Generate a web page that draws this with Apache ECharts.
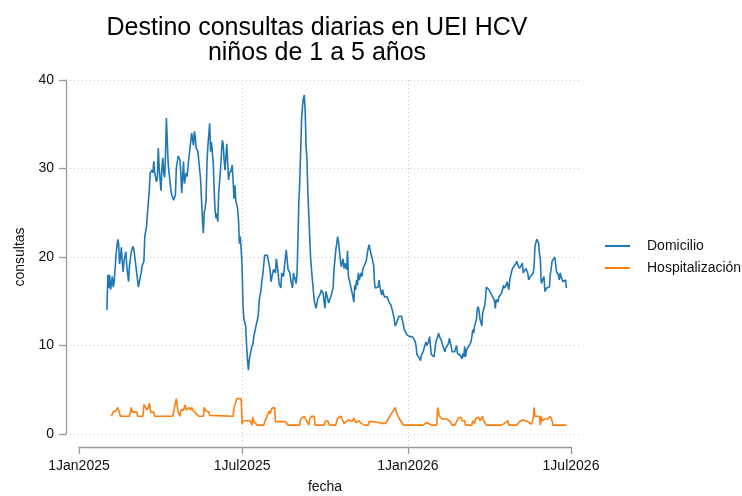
<!DOCTYPE html>
<html>
<head>
<meta charset="utf-8">
<script src="https://cdn.jsdelivr.net/npm/echarts@6/dist/echarts.min.js"></script>
<style>
  html, body { margin: 0; padding: 0; background: #fff; }
  #chart { width: 742px; height: 496px; }
</style>
</head>
<body>
<div id="chart"></div>
<script>
// fecha base: los datos van en días desde el 1 de enero de 2025
var fechaBase = '2025-01-01';
var fechasTicks = ['2025-01-01', '2025-07-01', '2026-01-01', '2026-07-01'];
var ticksY = [0, 10, 20, 30, 40];
var nombres = ['Domicilio', 'Hospitalización'];

// [día, consultas]
var domicilio = [[31,14.0],[32,18.0],[33,16.5],[34,18.0],[35,16.3],[36,17.0],[37,17.8],[38,16.6],[39,17.2],[40,18.5],[41,20.2],[42,20.3],[43,22.0],[44,21.5],[45,19.2],[46,20.0],[47,21.1],[48,19.5],[49,18.3],[50,19.6],[52,20.6],[53,19.0],[55,17.2],[56,19.0],[58,20.6],[60,21.2],[61,20.8],[63,20.6],[64,18.2],[66,16.6],[67,17.2],[69,18.2],[70,19.0],[72,19.5],[73,22.3],[75,23.5],[76,24.9],[78,27.5],[79,29.5],[81,29.8],[82,29.5],[83,30.8],[84,29.5],[86,28.5],[87,29.0],[88,32.3],[89,30.0],[91,27.5],[92,30.0],[93,31.2],[94,29.5],[95,29.0],[96,31.5],[97,35.7],[98,33.0],[99,30.5],[101,30.5],[102,27.5],[103,27.0],[105,26.4],[107,27.0],[108,30.0],[110,31.4],[112,31.0],[113,29.5],[114,27.2],[116,30.8],[117,28.3],[119,29.5],[120,29.1],[122,31.3],[123,32.1],[125,34.0],[126,34.0],[127,32.6],[128,34.2],[129,33.6],[130,32.3],[132,31.9],[133,30.8],[134,30.6],[135,28.7],[136,26.4],[137,24.2],[138,22.7],[139,25.1],[140,25.5],[141,26.4],[142,30.6],[143,32.5],[145,35.1],[146,31.9],[147,33.0],[148,33.0],[149,30.6],[150,27.6],[151,25.3],[152,24.4],[153,24.9],[154,24.0],[155,27.2],[156,27.4],[157,29.8],[159,33.2],[160,32.8],[161,31.0],[162,29.8],[164,32.8],[165,30.6],[166,28.7],[167,29.5],[169,29.8],[170,30.4],[171,28.7],[172,26.6],[173,28.1],[174,26.4],[175,25.9],[176,25.5],[177,24.2],[178,21.5],[179,22.3],[180,20.8],[181,18.9],[182,14.5],[183,13.0],[184,12.8],[185,12.2],[186,10.0],[187,8.4],[188,7.2],[189,8.4],[190,9.0],[191,8.9],[192,9.9],[193,10.2],[194,11.0],[195,11.2],[196,11.0],[197,12.5],[198,12.9],[199,13.5],[200,15.1],[202,16.3],[203,17.4],[204,18.0],[206,20.2],[207,20.0],[209,20.2],[210,20.4],[212,18.6],[213,17.2],[215,18.2],[216,18.6],[218,18.2],[219,19.8],[221,18.2],[222,17.0],[224,16.5],[225,18.2],[227,17.8],[228,18.9],[230,20.8],[231,19.7],[232,18.6],[234,18.2],[235,17.4],[237,16.5],[238,18.2],[240,17.4],[241,17.0],[242,18.2],[243,22.0],[244,26.4],[245,28.5],[246,32.0],[247,35.5],[248,37.0],[249,37.9],[250,38.3],[251,36.6],[252,32.5],[253,31.0],[254,27.2],[255,24.9],[256,22.3],[257,20.0],[258,18.6],[259,17.4],[260,16.3],[261,15.1],[262,14.6],[263,14.2],[264,14.4],[265,15.3],[266,15.5],[268,15.9],[269,16.3],[270,16.3],[271,15.9],[272,14.9],[273,14.2],[274,16.1],[276,15.3],[277,14.8],[279,14.9],[280,15.7],[282,16.5],[283,18.6],[284,19.7],[285,20.8],[286,21.5],[287,22.3],[288,21.7],[290,19.7],[291,18.9],[293,19.8],[294,18.7],[295,19.3],[296,18.9],[297,18.6],[298,20.7],[299,17.8],[300,17.4],[301,17.6],[302,17.4],[304,15.5],[305,14.9],[306,16.8],[307,16.3],[308,17.4],[309,16.8],[310,18.2],[311,17.4],[313,18.2],[314,17.8],[315,18.7],[316,18.6],[317,19.1],[318,18.9],[319,19.7],[320,20.4],[321,21.0],[322,21.4],[323,21.4],[324,20.4],[325,20.0],[326,19.5],[327,19.1],[328,17.0],[329,16.5],[330,16.5],[332,16.6],[333,17.4],[334,16.6],[335,16.1],[336,15.7],[337,16.3],[338,15.8],[339,15.5],[340,15.3],[341,15.5],[342,15.5],[343,15.3],[344,14.9],[345,15.1],[346,14.6],[347,14.4],[348,13.9],[349,13.4],[350,12.9],[351,12.2],[352,12.3],[353,12.7],[354,12.9],[355,13.3],[356,13.5],[357,13.5],[358,13.3],[359,12.8],[360,12.3],[361,11.8],[362,11.6],[363,11.6],[364,11.2],[365,11.4],[366,11.2],[367,11.0],[368,11.2],[369,11.1],[370,11.0],[371,11.2],[372,10.8],[373,10.5],[374,10.0],[375,9.0],[376,8.9],[377,8.7],[379,8.3],[380,8.9],[382,9.3],[383,9.7],[385,10.4],[386,10.0],[388,10.4],[389,11.0],[390,11.2],[391,9.0],[392,9.1],[394,8.7],[395,9.5],[396,10.4],[397,10.2],[398,11.0],[399,11.4],[400,11.0],[401,11.2],[402,10.6],[403,10.2],[404,9.9],[405,10.0],[406,9.3],[407,9.7],[408,9.5],[409,9.9],[410,10.2],[411,10.8],[412,10.4],[413,9.9],[414,9.3],[415,9.1],[416,9.1],[417,9.3],[418,9.7],[419,10.0],[420,9.1],[421,8.9],[422,9.3],[423,8.9],[424,8.7],[425,8.5],[426,9.1],[427,8.7],[428,9.9],[429,8.7],[430,9.5],[431,9.3],[432,9.7],[433,10.0],[434,10.2],[435,10.4],[436,11.0],[437,11.8],[438,11.4],[439,12.2],[440,12.0],[441,12.9],[442,14.1],[443,14.4],[444,13.9],[445,13.0],[446,12.6],[447,12.2],[448,13.7],[449,13.9],[450,14.4],[451,15.1],[452,16.6],[453,16.5],[454,16.6],[455,16.3],[456,16.1],[457,15.9],[458,15.9],[459,15.5],[460,15.7],[461,15.1],[462,14.2],[463,15.2],[465,14.9],[466,15.5],[468,15.3],[469,15.9],[471,16.8],[472,16.5],[474,16.8],[475,17.2],[477,16.3],[478,17.4],[480,18.3],[481,18.7],[483,18.9],[484,19.1],[486,19.5],[487,19.1],[489,18.7],[490,18.6],[492,19.3],[493,18.2],[495,18.3],[496,18.7],[498,18.2],[499,17.4],[501,17.8],[502,17.6],[504,18.2],[505,18.9],[506,21.2],[507,21.6],[508,22.0],[510,21.6],[511,20.4],[512,19.7],[513,17.0],[514,16.8],[515,17.2],[516,17.8],[517,16.1],[518,16.3],[519,16.5],[521,16.5],[522,16.6],[523,18.0],[524,18.7],[525,19.5],[526,19.7],[527,19.5],[528,20.0],[529,20.2],[530,18.3],[532,18.0],[533,17.4],[534,18.2],[535,17.8],[536,18.0],[537,17.2],[538,17.4],[539,17.2],[540,17.4],[541,16.5]];

var hospitalizacion = [[36,2.0],[38,2.5],[40,2.6],[41,2.6],[43,3.0],[44,2.7],[46,2.0],[56,2.0],[58,3.0],[59,2.5],[64,2.5],[65,2.0],[71,2.0],[72,3.3],[74,3.0],[75,2.7],[77,3.0],[78,3.5],[80,2.4],[81,2.3],[83,2.5],[84,2.0],[104,2.0],[105,2.5],[106,3.0],[107,3.5],[108,4.0],[109,3.2],[110,2.5],[112,2.0],[113,2.7],[116,2.7],[118,3.3],[119,2.7],[121,2.5],[122,3.0],[124,2.7],[125,3.0],[127,2.6],[128,2.5],[130,2.3],[131,2.1],[133,2.0],[138,2.0],[139,3.0],[141,2.6],[142,2.6],[144,2.5],[145,2.1],[147,2.0],[171,2.0],[172,3.0],[174,3.6],[175,4.0],[180,4.0],[181,1.1],[182,1.5],[186,1.5],[188,1.3],[190,1.5],[192,1.0],[193,1.9],[194,1.4],[196,1.2],[198,1.0],[205,1.0],[207,1.6],[209,1.6],[211,2.6],[212,2.3],[214,2.9],[215,3.0],[217,3.0],[218,1.4],[229,1.4],[230,1.2],[232,1.0],[245,1.0],[246,1.7],[248,1.9],[250,2.0],[252,1.8],[253,1.4],[255,1.0],[256,1.7],[258,2.0],[261,2.0],[262,1.0],[272,1.0],[273,1.4],[275,1.6],[276,1.5],[278,1.0],[285,1.0],[287,1.8],[288,2.0],[291,2.0],[292,1.7],[294,1.2],[296,1.4],[299,1.6],[301,1.5],[303,1.4],[305,1.8],[307,1.3],[308,1.5],[311,1.5],[313,1.2],[315,1.2],[317,1.0],[321,1.0],[322,1.4],[325,1.4],[327,1.2],[333,1.3],[336,1.2],[338,1.0],[340,1.2],[342,1.5],[344,1.7],[346,2.2],[348,2.5],[351,3.0],[352,2.5],[354,2.0],[356,2.0],[357,1.5],[360,1.0],[382,1.0],[383,1.2],[386,1.3],[388,1.2],[391,1.0],[397,1.0],[398,3.0],[400,2.0],[401,1.9],[403,1.7],[408,1.7],[410,1.5],[412,1.4],[414,1.0],[417,1.0],[419,1.4],[421,1.8],[423,2.0],[424,1.9],[425,1.5],[428,1.5],[429,1.0],[436,1.0],[437,1.5],[439,1.2],[440,1.7],[442,1.5],[443,1.9],[445,1.5],[446,1.7],[448,2.0],[449,1.5],[451,1.5],[452,1.0],[469,1.0],[472,1.2],[474,1.4],[476,1.5],[477,1.0],[486,1.0],[488,1.3],[490,1.4],[492,1.6],[494,1.4],[495,1.5],[498,1.4],[500,1.2],[502,1.1],[504,1.7],[505,3.0],[506,2.0],[511,2.0],[512,1.0],[513,2.0],[514,1.5],[516,1.4],[517,1.7],[519,1.8],[520,1.7],[522,1.9],[523,2.0],[525,1.5],[526,1.0],[541,1.0]];

(function() {
    var DIA = 86400000;
    var base = Date.parse(fechaBase);
    var meses = ['Jan', 'Feb', 'Mar', 'Apr', 'May', 'Jun', 'Jul', 'Aug', 'Sep', 'Oct', 'Nov', 'Dec'];
    var ticksX = fechasTicks.map(function(f) { return Math.round((Date.parse(f) - base) / DIA); });
    var xMin = ticksX[0], xMax = ticksX[ticksX.length - 1];
    // eje de fechas: de 79px a 571px
    var pxDia = 492 / (xMax - xMin);
    var fuente = 'Liberation Sans, Arial, sans-serif';
    var gris = '#9a9a9a';

    function etiquetaFecha(v) {
        var d = new Date(base + v * DIA);
        return d.getUTCDate() + meses[d.getUTCMonth()] + d.getUTCFullYear();
    }

    var myChart = echarts.init(document.getElementById('chart'), null, { renderer: 'canvas' });
    var option = {
        animation: false,
        backgroundColor: '#fff',
        textStyle: { fontFamily: fuente },
        title: {
            text: 'Destino consultas diarias en UEI HCV\nniños de 1 a 5 años',
            left: 312,
            top: 11,
            textAlign: 'center',
            textStyle: { fontFamily: fuente, fontSize: 25, fontWeight: 'normal', color: '#000', lineHeight: 25 }
        },
        legend: {
            orient: 'vertical',
            left: 600,
            top: 234,
            icon: 'rect',
            itemWidth: 25,
            itemHeight: 2,
            itemGap: 8,
            data: nombres,
            textStyle: { fontFamily: fuente, fontSize: 14, color: '#111', padding: [0, 0, 0, 12] }
        },
        grid: [
            // zona de datos
            { left: 66, top: 80, width: 513, height: 354, outerBoundsMode: 'none' },
            // eje de fechas separado
            { left: 79, top: 80, width: 492, height: 367, outerBoundsMode: 'none' }
        ],
        xAxis: [{
            gridIndex: 0,
            type: 'value',
            min: xMin - 13 / pxDia,
            max: xMax + 8 / pxDia,
            show: false
        }, {
            gridIndex: 1,
            type: 'value',
            min: xMin,
            max: xMax,
            name: 'fecha',
            nameLocation: 'middle',
            nameGap: 33,
            nameMoveOverlap: false,
            nameTextStyle: { fontFamily: fuente, fontSize: 14, color: '#111' },
            axisLine: { onZero: false, lineStyle: { color: gris, width: 1.3 } },
            axisTick: { customValues: ticksX, length: 7, lineStyle: { color: gris, width: 1.3 } },
            axisLabel: {
                customValues: ticksX,
                margin: 12,
                fontSize: 14,
                color: '#111',
                fontFamily: fuente,
                formatter: etiquetaFecha
            },
            splitLine: {
                show: true,
                showMinLine: false,
                showMaxLine: false,
                lineStyle: { color: '#c8c8c8', type: [1, 3], width: 1 }
            }
        }],
        yAxis: [{
            gridIndex: 0,
            type: 'value',
            min: ticksY[0],
            max: ticksY[ticksY.length - 1],
            interval: ticksY[1] - ticksY[0],
            name: 'consultas',
            nameLocation: 'middle',
            nameGap: 39,
            nameRotate: 90,
            nameMoveOverlap: false,
            nameTextStyle: { fontFamily: fuente, fontSize: 14, color: '#111' },
            axisLine: { show: true, onZero: false, lineStyle: { color: gris, width: 1.3 } },
            axisTick: { show: true, length: 7, lineStyle: { color: gris, width: 1.3 } },
            axisLabel: { margin: 12, fontSize: 14, color: '#111', fontFamily: fuente },
            splitLine: { show: true, lineStyle: { color: '#c8c8c8', type: [1, 3], width: 1 } }
        }, {
            gridIndex: 1,
            type: 'value',
            min: 0,
            max: 1,
            show: false
        }],
        series: [{
            name: nombres[0],
            type: 'line',
            xAxisIndex: 0,
            yAxisIndex: 0,
            data: domicilio,
            showSymbol: false,
            symbol: 'none',
            color: '#1f77b4',
            lineStyle: { width: 1.6, color: '#1f77b4' },
            z: 3
        }, {
            name: nombres[1],
            type: 'line',
            xAxisIndex: 0,
            yAxisIndex: 0,
            data: hospitalizacion,
            showSymbol: false,
            symbol: 'none',
            color: '#ff7f0e',
            lineStyle: { width: 1.6, color: '#ff7f0e' },
            z: 3
        }]
    };
    myChart.setOption(option);
})();
</script>
</body>
</html>
